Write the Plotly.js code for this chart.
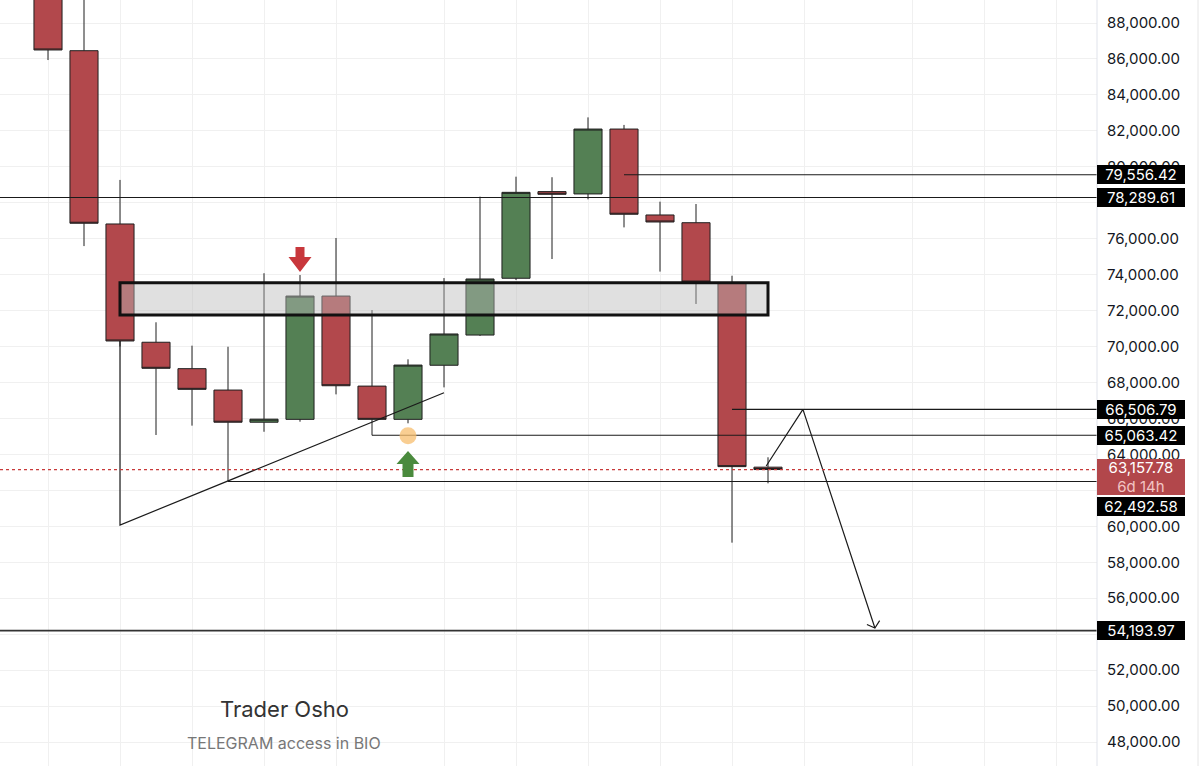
<!DOCTYPE html>
<html>
<head>
<meta charset="utf-8">
<script src="https://cdn.plot.ly/plotly-3.0.1.min.js"></script>
<style>
html,body{margin:0;padding:0;background:#fff;}
#chart{width:1200px;height:766px;}
</style>
</head>
<body>
<div id="chart"></div>
<script>
// ---- Candle data (bar index, OHLC) ----
const barIndex = [0,1,2,3,4,5,6,7,8,9,10,11,12,13,14,15,16,17,18,19,20];
const openVals  = [90100, 86460, 76820, 70240, 68770, 67580, 65790, 65950, 72810, 67800, 65950, 68960, 70640, 73800, 78620, 78490, 82100, 77320, 76890, 73550, 63290];
const closeVals = [86500, 76860, 70310, 68790, 67620, 65790, 65960, 72810, 67820, 65950, 68970, 70700, 73760, 78580, 78470, 82100, 77360, 76930, 73590, 63320, 63157.78];
const highVals  = [91000, 89900, 79270, 71350, 70050, 69990, 74080, 73980, 76040, 72030, 69290, 73810, 78340, 79450, 79420, 82750, 82330, 78060, 77930, 73940, 63840];
const lowVals   = [85940, 75590, 70000, 65080, 65600, 62492.58, 65260, 65820, 67340, 65063.42, 65730, 67730, 70590, 73700, 74870, 78190, 76630, 74170, 72370, 59090, 62390];

// ---- Axis ticks ----
const gridBars = [0, 2, 4, 6, 8, 11, 13, 15, 17, 19, 21, 24, 26, 28];
const priceTicks = [48000, 50000, 52000, 54000, 56000, 58000, 60000, 62000, 64000, 66000, 68000, 70000, 72000, 74000, 76000, 78000, 80000, 82000, 84000, 86000, 88000];
const hiddenTicks = [54000, 62000, 78000]; // fully covered by price labels in the original

// ---- Price levels drawn as horizontal lines: [value, start bar] ----
const levelValues = [78289.61, 79556.42, 66506.79, 65063.42, 62492.58, 54193.97];
const levelStarts = [-2, 16, 19, 9, 5, -2];
const lastPrice = 63157.78;
const lastCountdown = "6d 14h";

// ---- Zone rectangle ----
const zoneBars = [2, 20];
const zoneValues = [71760, 73550];

// ---- Triangle drawing (bar, value) ----
const triX = [2, 2, 11];
const triY = [70309, 60072, 67430];

// ---- Projection arrow (bar, value) ----
const projX = [19.95, 20.97, 22.97];
const projY = [63355, 66506.79, 54342];

// ---- Markers ----
const downArrow = {bar: 7, value: 74148};
const upArrow = {bar: 10, value: 64189};
const circleMark = {bar: 10, value: 65040};

// ---- Watermark ----
const titleText = "Trader Osho";
const subtitleText = "TELEGRAM access in BIO";

const RED = '#b2484c', GREEN = '#548054', EDGE = '#1f1f1f';
const fmt = v => v.toLocaleString('en-US', {minimumFractionDigits: 2, maximumFractionDigits: 2});

const traces = [
  {
    type: 'candlestick',
    x: barIndex, open: openVals, high: highVals, low: lowVals, close: closeVals,
    increasing: {fillcolor: GREEN, line: {color: EDGE, width: 1}},
    decreasing: {fillcolor: RED, line: {color: EDGE, width: 1}},
    whiskerwidth: 0,
    hoverinfo: 'skip',
    showlegend: false
  },
  {
    type: 'scatter', mode: 'lines', x: triX, y: triY,
    line: {color: '#1a1a1a', width: 1.2}, hoverinfo: 'skip', showlegend: false
  },
  {
    type: 'scatter', mode: 'lines', x: projX, y: projY,
    line: {color: '#1a1a1a', width: 1.2}, hoverinfo: 'skip', showlegend: false
  }
];

const shapes = [];
shapes.push({
  type: 'line', xref: 'paper', yref: 'y', x0: 0, x1: 1, y0: lastPrice, y1: lastPrice,
  line: {color: '#c83a3a', width: 1.2, dash: 'dot'}, layer: 'above'
});
levelValues.forEach((v, k) => {
  const isBottom = (k === levelValues.length - 1);
  shapes.push({
    type: 'line', xref: 'x', yref: 'y',
    x0: levelStarts[k], x1: 40, y0: v, y1: v,
    line: {color: isBottom ? '#333' : '#1a1a1a', width: isBottom ? 1.6 : 1.1},
    layer: 'above'
  });
});
shapes.push({
  type: 'rect', xref: 'x', yref: 'y',
  x0: zoneBars[0], x1: zoneBars[1], y0: zoneValues[0], y1: zoneValues[1],
  fillcolor: 'rgba(186,186,186,0.45)', line: {color: '#111', width: 3}, layer: 'above'
});
shapes.push({
  type: 'path', xref: 'x', yref: 'y', xsizemode: 'pixel', ysizemode: 'pixel',
  xanchor: downArrow.bar, yanchor: downArrow.value,
  path: 'M -4.5 25 L 4.5 25 L 4.5 15 L 11.5 15 L 0 0 L -11.5 15 L -4.5 15 Z',
  fillcolor: '#c8373c', line: {width: 0}, layer: 'above'
});
shapes.push({
  type: 'path', xref: 'x', yref: 'y', xsizemode: 'pixel', ysizemode: 'pixel',
  xanchor: upArrow.bar, yanchor: upArrow.value,
  path: 'M -5.5 -26 L 5.5 -26 L 5.5 -13 L 11.5 -13 L 0 0 L -11.5 -13 L -5.5 -13 Z',
  fillcolor: '#4a8a3d', line: {width: 0}, layer: 'above'
});
shapes.push({
  type: 'circle', xref: 'x', yref: 'y', xsizemode: 'pixel', ysizemode: 'pixel',
  xanchor: circleMark.bar, yanchor: circleMark.value,
  x0: -8.5, x1: 8.5, y0: -8.5, y1: 8.5,
  fillcolor: 'rgba(247,190,110,0.75)', line: {width: 0}, layer: 'above'
});
shapes.push({
  type: 'path', xref: 'x', yref: 'y', xsizemode: 'pixel', ysizemode: 'pixel',
  xanchor: projX[2], yanchor: projY[2],
  path: 'M -8 3.5 L 0 0 L 4.7 7.4',
  line: {color: '#1a1a1a', width: 1.2}, layer: 'above'
});
shapes.push({type: 'line', xref: 'paper', yref: 'paper', x0: 1, x1: 1, y0: 0, y1: 1,
  line: {color: '#e0e3eb', width: 1}, layer: 'above'});
shapes.push({type: 'line', xref: 'paper', yref: 'paper', x0: 1.0921, x1: 1.0921, y0: 0, y1: 1,
  line: {color: '#e6e6e6', width: 1}, layer: 'above'});

const annotations = [];
const labelFont = {family: 'Inter, Roboto, sans-serif', size: 15, color: '#ffffff'};
levelValues.forEach((v) => {
  annotations.push({
    xref: 'paper', yref: 'y', x: 1, y: v, xanchor: 'left', yanchor: 'middle',
    text: fmt(v),
    showarrow: false, bgcolor: '#000', bordercolor: '#000', borderwidth: 0, borderpad: 1,
    width: 86, height: 17, align: 'center', font: labelFont,
    yshift: (v === 62492.58) ? -24.5 : 0
  });
});
annotations.push({
  xref: 'paper', yref: 'y', x: 1, y: lastPrice, xanchor: 'left', yanchor: 'middle',
  text: fmt(lastPrice) + '<br><span style="color:#f2c4c4">' + lastCountdown + '</span>',
  showarrow: false, bgcolor: '#b2474b', borderwidth: 0, borderpad: 1,
  width: 86, height: 34, align: 'center', font: labelFont, yshift: -7.7
});
annotations.push({
  xref: 'paper', yref: 'paper', x: 284 / 1097, y: 1 - 709 / 766,
  xanchor: 'center', yanchor: 'middle', showarrow: false,
  text: titleText, font: {family: 'Inter, Roboto, sans-serif', size: 22, color: '#333'}
});
annotations.push({
  xref: 'paper', yref: 'paper', x: 284 / 1097, y: 1 - 743 / 766,
  xanchor: 'center', yanchor: 'middle', showarrow: false,
  text: subtitleText, font: {family: 'Inter, Roboto, sans-serif', size: 16, color: '#777'}
});

const layout = {
  width: 1200, height: 766,
  margin: {l: 0, r: 103, t: 0, b: 0, pad: 0},
  paper_bgcolor: '#ffffff', plot_bgcolor: '#ffffff',
  showlegend: false,
  boxgap: 0.22, boxgroupgap: 0,
  xaxis: {
    range: [-1.3333, 29.139], tickmode: 'array', tickvals: gridBars,
    showticklabels: false, showgrid: true, gridcolor: '#f0f0f0', gridwidth: 1,
    zeroline: false, showline: false, ticks: '',
    rangeslider: {visible: false}, fixedrange: true
  },
  yaxis: {
    side: 'right', range: [46665, 89280], tickmode: 'array', tickvals: priceTicks,
    ticktext: priceTicks.map(v => hiddenTicks.includes(v) ? '' : fmt(v)),
    showgrid: true, gridcolor: '#f0f0f0', gridwidth: 1,
    zeroline: false, showline: false, ticks: 'outside', ticklen: 6, tickcolor: 'rgba(0,0,0,0)',
    tickfont: {family: 'Inter, Roboto, sans-serif', size: 15, color: '#131722'},
    fixedrange: true
  },
  shapes: shapes,
  annotations: annotations,
  hovermode: false
};

Plotly.newPlot('chart', traces, layout, {displayModeBar: false, staticPlot: true});
</script>
</body>
</html>
